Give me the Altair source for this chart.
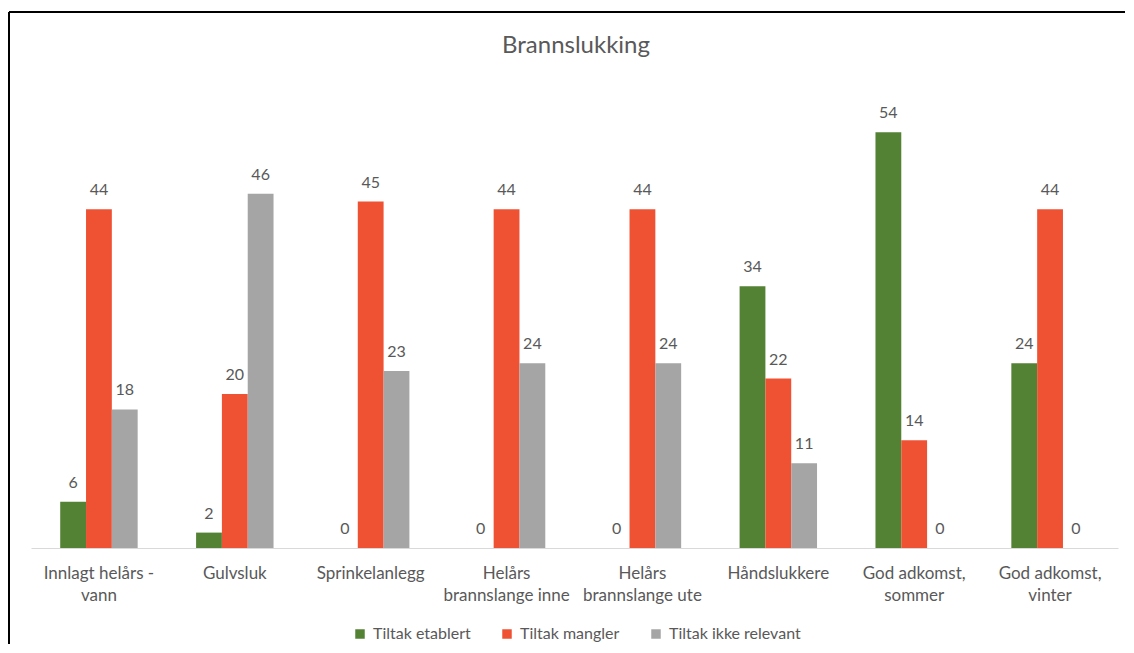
import altair as alt
import pandas as pd

categories = [
    "Innlagt helårs -\nvann",
    "Gulvsluk",
    "Sprinkelanlegg",
    "Helårs\nbrannslange inne",
    "Helårs\nbrannslange ute",
    "Håndslukkere",
    "God adkomst,\nsommer",
    "God adkomst,\nvinter",
]
series = ["Tiltak etablert", "Tiltak mangler", "Tiltak ikke relevant"]
etablert = [6, 2, 0, 0, 0, 34, 54, 24]
mangler = [44, 20, 45, 44, 44, 22, 14, 44]
ikke_relevant = [18, 46, 23, 24, 24, 11, 0, 0]
colors = ["#548235", "#EF5233", "#A5A5A5"]
title_text = "Brannslukking"

rows = []
for s, vals in zip(series, [etablert, mangler, ikke_relevant]):
    for c, v in zip(categories, vals):
        rows.append({"kategori": c, "serie": s, "antall": v})
df = pd.DataFrame(rows)

FONT = "Lato"
TXT = "#595959"

x_enc = alt.X(
    "kategori:N",
    sort=categories,
    title=None,
    scale=alt.Scale(paddingInner=0.43, paddingOuter=0.215),
    axis=alt.Axis(
        labelAngle=0,
        ticks=False,
        domainColor="#D9D9D9",
        domainWidth=1,
        labelColor=TXT,
        labelFont=FONT,
        labelFontSize=17,
        labelLineHeight=22,
        labelPadding=17,
        labelExpr="split(datum.label, '\\n')",
    ),
)
xo_enc = alt.XOffset("serie:N", sort=series, scale=alt.Scale(paddingInner=0, paddingOuter=0))
y_enc = alt.Y("antall:Q", axis=None, scale=alt.Scale(domain=[0, 60]))

base = alt.Chart(df)

bars = base.mark_bar().encode(
    x=x_enc,
    xOffset=xo_enc,
    y=y_enc,
    color=alt.Color(
        "serie:N",
        sort=series,
        scale=alt.Scale(domain=series, range=colors),
        legend=alt.Legend(
            orient="none",
            legendX=321,
            legendY=540,
            direction="horizontal",
            title=None,
            symbolType="square",
            symbolSize=90,
            symbolStrokeWidth=0,
            labelFont=FONT,
            labelFontSize=16,
            labelColor=TXT,
            columnPadding=28,
            labelOffset=5,
        ),
    ),
)

labels = base.mark_text(
    baseline="alphabetic", dy=-14, font=FONT, fontSize=16, color=TXT
).encode(
    x=x_enc,
    xOffset=xo_enc,
    y=y_enc,
    text="antall:Q",
)

frame_df = pd.DataFrame({"a": [0]})
left_rule = alt.Chart(frame_df).mark_rule(color="#000000", strokeWidth=2).encode(
    x=alt.value(-22), y=alt.value(-74), y2=alt.value(558)
)
top_rule = alt.Chart(frame_df).mark_rule(color="#000000", strokeWidth=2).encode(
    x=alt.value(-22), x2=alt.value(1094), y=alt.value(-74)
)
title_mark = alt.Chart(frame_df).mark_text(
    font=FONT, fontSize=24, color=TXT, baseline="alphabetic", align="center"
).encode(
    x=alt.value(545), y=alt.value(-33), text=alt.value(title_text)
)

chart = (
    alt.layer(bars, labels, left_rule, top_rule, title_mark)
    .properties(
        width=1087,
        height=462,
        background="#FFFFFF",
        padding={"left": 0, "top": 3, "right": 0, "bottom": 0},
    )
    .configure_view(stroke="transparent", strokeWidth=0)
)

chart.save("out.html", embed_options={"renderer": "svg", "actions": False})
